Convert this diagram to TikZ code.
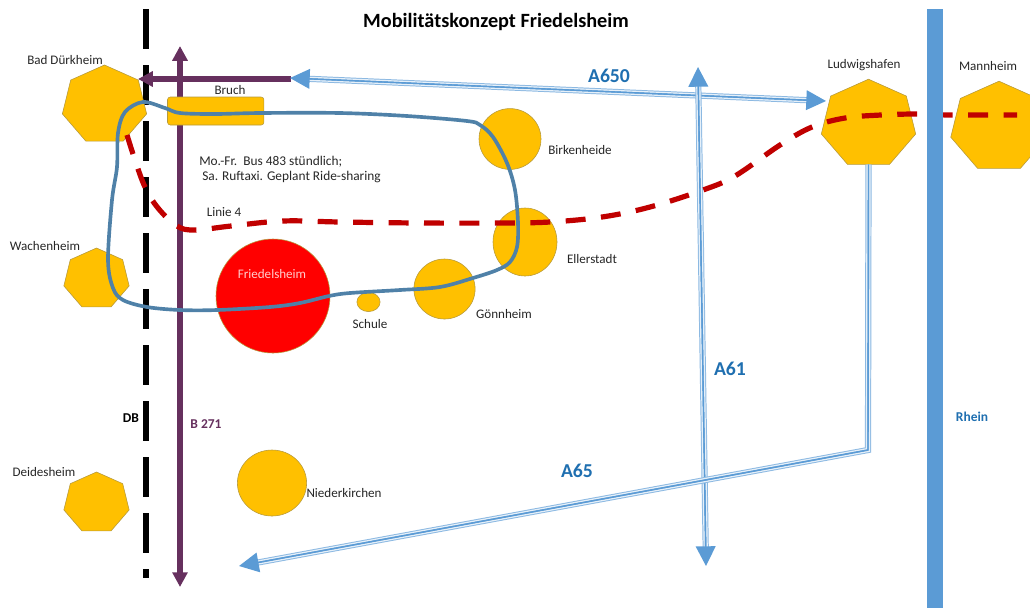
\documentclass[tikz,border=0pt]{standalone}
\usepackage{fontspec}
\setmainfont{Carlito}
\usetikzlibrary{arrows.meta,shapes.geometric}
\definecolor{gold}{HTML}{FFC000}
\definecolor{goldline}{HTML}{B5993C}
\definecolor{roadblue}{HTML}{5B9BD5}
\definecolor{textblue}{HTML}{1F6FB0}
\definecolor{busblue}{HTML}{4F81A8}
\definecolor{tramred}{HTML}{C00000}
\definecolor{bpurple}{HTML}{66305E}
\definecolor{labelgrey}{HTML}{262626}
\tikzset{
  town/.style={regular polygon,regular polygon sides=7,draw=goldline,fill=gold,inner sep=0pt,xscale=1.08,transform shape},
  village/.style={ellipse,draw=goldline,fill=gold,inner sep=0pt},
  place/.style={font=\fontsize{9.3}{11}\selectfont,text=labelgrey,inner sep=0pt},
  roadname/.style={font=\fontsize{14}{16}\selectfont\bfseries,text=textblue,inner sep=0pt},
  smallbold/.style={font=\fontsize{9.6}{11}\selectfont\bfseries,inner sep=0pt},
  motorway/.style={line join=miter,
    preaction={draw=roadblue!70,line width=4.4pt,-,#1},
    preaction={draw=white!85!roadblue,line width=3pt,-,#1},
    preaction={draw=roadblue,line width=1pt,-,#1},
    draw=roadblue,line width=1pt},
  purpleroad/.style={draw=bpurple,line width=3.6pt}
}
\begin{document}
\begin{tikzpicture}[x=.025cm,y=-.025cm]
\useasboundingbox (0,0) rectangle (1030,608);
\coordinate (railtop) at (146,9);
\coordinate (railend) at (146,578);
\coordinate (btop) at (180,46);
\coordinate (bend) at (180,587);
\coordinate (bruchright) at (291,79);
\coordinate (bruchleft) at (138,79);
\coordinate (a650left) at (290,78);
\coordinate (a650right) at (826,101);
\coordinate (a61top) at (698,67);
\coordinate (a61end) at (706,566);
\coordinate (a65corner) at (868,450);
\coordinate (a65end) at (239,566);
\coordinate (rheintop) at (935,9);
\coordinate (rheinend) at (935,608);
% rail and B 271
\draw [line width=4.3pt, dash pattern=on 1cm off .4cm] (railtop) -- (railend);
\draw [purpleroad, {Triangle[length=10.5pt,width=10.5pt]}-{Triangle[length=10.5pt,width=10.5pt]}] (btop) -- (bend);
% towns
\node [town, minimum size=2cm] (durkheim) at (104.5,105) {};
\node [town, minimum size=1.55cm] (wachenheim) at (96.5,279) {};
\node [town, minimum size=1.55cm] (deidesheim) at (96.5,503) {};
\node [town, minimum size=2.24cm] (ludwigshafen) at (868.5,124) {};
\node [town, minimum size=2.29cm] (mannheim) at (999,127) {};
% villages
\node [village, minimum width=1.55cm, minimum height=1.52cm] (birkenheide) at (510,139) {};
\node [village, minimum width=1.6cm, minimum height=1.7cm] (ellerstadt) at (525,242) {};
\node [village, minimum width=1.53cm, minimum height=1.5cm] (gonnheim) at (444.5,289) {};
\node [village, minimum width=.58cm, minimum height=.48cm] (schule) at (368.5,302) {};
\node [village, minimum width=1.73cm, minimum height=1.65cm] (niederkirchen) at (272,483) {};
\node [ellipse, draw=goldline, fill=red, inner sep=0pt, minimum size=2.85cm] (friedelsheim) at (273,296) {};
\node [rectangle, rounded corners=2pt, draw=goldline, fill=gold, minimum width=2.41cm, minimum height=.7cm, inner sep=0pt] (bruch) at (215.7,111) {};
\draw [purpleroad, -{Triangle[length=10.5pt,width=10.5pt]}] (bruchright) -- (bruchleft);
% motorways
\draw [motorway={shorten <=10pt,shorten >=10pt}, {Triangle[length=14pt,width=14pt]}-{Triangle[length=14pt,width=14pt]}] (a650left) -- (a650right);
\draw [motorway={shorten <=10pt,shorten >=10pt}, {Triangle[length=14pt,width=14pt]}-{Triangle[length=14pt,width=14pt]}] (a61top) -- (a61end);
\draw [motorway={shorten >=10pt}, -{Triangle[length=14pt,width=14pt]}] (ludwigshafen.south) -- (a65corner) -- (a65end);
% line 4
\draw [tramred, line width=3.7pt, dash pattern=on 14.2pt off 11pt] plot [smooth, tension=.6] coordinates {(127,135) (135,160) (145,187) (158,208) (177,226) (195,230) (231,226) (283,221) (340,222) (420,223) (500,223) (550,222) (602,217) (650,207) (703,190) (735,176) (780,145) (812,127) (845,118) (881,115) (917,114) (950,115) (1017,115)};
\draw [draw=none, fill=roadblue] (rheintop)+(-8,0) rectangle ([xshift=.2cm] rheinend);
% bus loop
\draw [busblue, line width=2.6pt] plot [smooth cycle, tension=.55] coordinates {(143,102) (165,108) (180,113) (215,114) (260,113) (340,113) (407,116) (467,121) (480,125) (493,137) (507,163) (515,190) (518,223) (517,247) (510,262) (497,270) (473,278) (440,287) (400,290) (350,293) (329,296) (300,303) (270,307) (217,310) (180,310) (147,307) (123,300) (113,288) (108,260) (112,200) (117,167) (118,133) (125,112)};
% labels
\node [font=\fontsize{14.4}{16}\selectfont\bfseries, text=black, inner sep=0pt] (title) at (496,22) {Mobilitätskonzept Friedelsheim};
\node [place] (durkheimtext) at (65,60) {Bad Dürkheim};
\node [place] (bruchtext) at (230,90) {Bruch};
\node [place, anchor=west, font=\fontsize{9.5}{11}\selectfont] (bustext) at (199,162) {Mo.-Fr.\ \ Bus 483 stündlich;};
\node [place, anchor=west, font=\fontsize{9.5}{11}\selectfont] (ruftext) at (202,177) {Sa. Ruftaxi. Geplant Ride-sharing};
\node [place] (linietext) at (224,212) {Linie 4};
\node [place, text=white!80!red] (friedelsheimtext) at (272,274) {Friedelsheim};
\node [place] (wachenheimtext) at (45,246) {Wachenheim};
\node [place] (schuletext) at (370,324) {Schule};
\node [place] (gonnheimtext) at (504,314) {Gönnheim};
\node [place] (ellerstadttext) at (592,259) {Ellerstadt};
\node [place] (birkenheidetext) at (580,150) {Birkenheide};
\node [place] (niederkirchentext) at (344,493) {Niederkirchen};
\node [place] (deidesheimtext) at (44,472) {Deidesheim};
\node [place] (ludwigshafentext) at (864,65.5) {Ludwigshafen};
\node [place] (mannheimtext) at (988,66) {Mannheim};
\node [roadname] (a650text) at (609,76) {A650};
\node [roadname] (a61text) at (730,369) {A61};
\node [roadname] (a65text) at (577,471) {A65};
\node [smallbold, text=black] (dbtext) at (131,418) {DB};
\node [smallbold, text=bpurple] (b271text) at (206,424) {B 271};
\node [smallbold, text=textblue] (rheintext) at (972,417) {Rhein};
\end{tikzpicture}
\end{document}
